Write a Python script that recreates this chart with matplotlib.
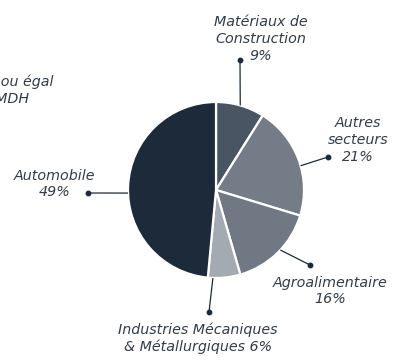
import numpy as np
from matplotlib import pyplot as plt

# sectors, clockwise from the top
sectors = ["Matériaux de\nConstruction\n9%", "Autres\nsecteurs\n21%", "Agroalimentaire\n16%",
           "Industries Mécaniques\n& Métallurgiques 6%", "Automobile\n49%"]
shares = [9, 21, 16, 6, 49]
colors = ["#4a5563", "#737c87", "#6f7883", "#a4aab1", "#1c2a3a"]

# label block centres, leader dots and leader start angles (screen pixels, y down)
label_pos = [(261, 39), (358, 140), (330, 291), (198, 338), (55, 184)]
label_dot = [(240, 60), (328, 157), (310, 265), (209, 312), (88, 193)]
leader_angle = [74, 16, -43, -92, 182]

text_col = "#333c48"
plt.rcParams["font.family"] = ["DejaVu Sans"]

fig = plt.figure(figsize=(3.95, 3.6), dpi=100)
ax = fig.add_axes([0, 0, 1, 1])

cx, cy, r = 216, 190, 88
# y axis is inverted, so a data start of -90 counterclockwise reads as top/clockwise on screen
ax.pie(shares, colors=colors, startangle=-90, counterclock=True,
       center=(cx, cy), radius=r, frame=True,
       wedgeprops=dict(edgecolor="white", linewidth=1.6))
ax.set_xlim(0, 395)
ax.set_ylim(360, 0)
ax.set_aspect("equal")
ax.axis("off")

for name, (tx, ty), (dx, dy), ang in zip(sectors, label_pos, label_dot, leader_angle):
    a = np.deg2rad(ang)
    ex, ey = cx + r * np.cos(a), cy - r * np.sin(a)
    ax.plot([ex, dx], [ey, dy], color="#1c2a3a", lw=0.9, solid_capstyle="butt")
    ax.plot(dx, dy, "o", color="#1c2a3a", ms=3.2)
    ax.text(tx, ty, name, ha="center", va="center", fontsize=10.3, style="italic",
            color=text_col, linespacing=1.25)

# neighbouring panel's label, running off the left edge
ax.text(-10, 90, "Supérieur ou égal\nà 100 MDH", ha="center", va="center", fontsize=10.3,
        style="italic", color=text_col, linespacing=1.25, clip_on=False)

fig.savefig("out.png", dpi=100)
